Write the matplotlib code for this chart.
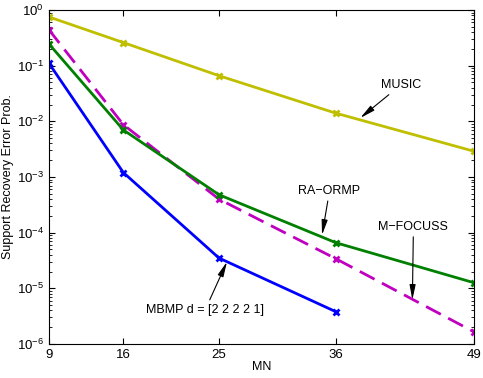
import numpy as np
import matplotlib
matplotlib.use("Agg")
import matplotlib.pyplot as plt

plt.rcParams['font.family'] = ['Liberation Sans', 'DejaVu Sans']
plt.rcParams['font.size'] = 9

mn = [9, 16, 25, 36, 49]
music = [0.75, 0.26, 0.066, 0.014, 0.0029]
mfocuss = [0.44, 0.0087, 4.0e-4, 3.4e-5, 1.65e-6]
raormp = [0.245, 0.007, 4.8e-4, 6.6e-5, 1.26e-5]
mbmp_x = [9, 16, 25, 36]
mbmp = [0.11, 1.2e-3, 3.5e-5, 3.8e-6]

fig = plt.figure(figsize=(4.83, 3.78), dpi=100)
ax = fig.add_axes([49/483, 34/378, 425/483, 334/378])

ax.semilogy(mn, music, '-x', color=(0.75, 0.75, 0), lw=2, ms=5, mew=2)
ax.semilogy(mn, mfocuss, '--x', color=(0.75, 0, 0.75), lw=2, ms=5, mew=2, dashes=(6, 3))
ax.semilogy(mn, raormp, '-x', color=(0, 0.5, 0), lw=2, ms=5, mew=2)
ax.semilogy(mbmp_x, mbmp, '-x', color=(0, 0, 1), lw=2, ms=5, mew=2)

ax.set_xlim(9, 49)
ax.set_ylim(1e-6, 1)
ax.set_xticks(mn)
ax.set_xlabel('MN', labelpad=0)
ax.set_ylabel('Support Recovery Error Prob.', labelpad=2)
ax.tick_params(which='both', direction='in', top=True, right=True, labelsize=9.5)
ax.tick_params(which='major', length=4)
ax.tick_params(which='minor', length=2)

arrow = dict(arrowstyle='-|>,head_width=0.15,head_length=0.75', color='k',
             lw=0.8, mutation_scale=12, shrinkA=1, shrinkB=0)
ax.annotate('MUSIC', xy=(38.3, 0.0115), xytext=(42.1, 0.035),
            ha='center', va='bottom', arrowprops=arrow)
ax.annotate('RA\u2212ORMP', xy=(34.7, 9.1e-5), xytext=(35.4, 4.4e-4),
            ha='center', va='bottom', arrowprops=arrow)
ax.annotate('M\u2212FOCUSS', xy=(43.2, 6.2e-6), xytext=(43.3, 1.0e-4),
            ha='center', va='bottom', arrowprops=arrow)
ax.annotate('MBMP d = [2 2 2 2 1]', xy=(25.75, 3.0e-5), xytext=(23.7, 3.2e-6),
            ha='center', va='bottom', arrowprops=arrow)

fig.savefig('out.png', dpi=100)
